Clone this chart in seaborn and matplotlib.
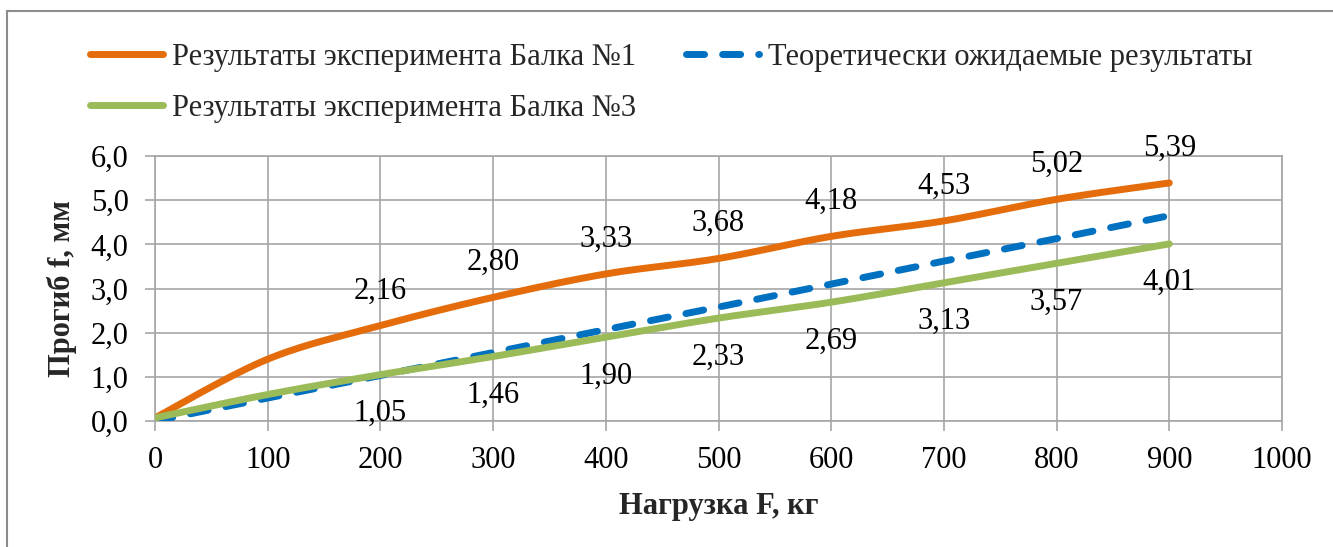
import numpy as np
import pandas as pd
import matplotlib
matplotlib.use("Agg")
import matplotlib.pyplot as plt
import seaborn as sns
from matplotlib.patches import Rectangle
from matplotlib.ticker import FuncFormatter, MultipleLocator

# data
loads = [0, 100, 200, 300, 400, 500, 600, 700, 800, 900]
beam1 = [0.07, 1.40, 2.16, 2.80, 3.33, 3.68, 4.18, 4.53, 5.02, 5.39]
theory = [0.00, 0.52, 1.03, 1.55, 2.07, 2.58, 3.10, 3.62, 4.13, 4.65]
beam3 = [0.07, 0.60, 1.05, 1.46, 1.90, 2.33, 2.69, 3.13, 3.57, 4.01]
beam1_labels = ["", "", "2,16", "2,80", "3,33", "3,68", "4,18", "4,53", "5,02", "5,39"]
beam3_labels = ["", "", "1,05", "1,46", "1,90", "2,33", "2,69", "3,13", "3,57", "4,01"]

name1 = "Результаты эксперимента Балка №1"
name_t = "Теоретически ожидаемые результаты"
name3 = "Результаты эксперимента Балка №3"

ORANGE = "#E46C0A"
BLUE = "#0070C0"
GREEN = "#9BBB59"
GRID = "#A6A6A6"
FS = 22


def smooth(x, y, n=30):
    # excel-like smoothed line (catmull-rom as cubic bezier), only for drawing
    x = np.asarray(x, float)
    y = np.asarray(y, float)
    px = np.concatenate([[x[0]], x, [x[-1]]])
    py = np.concatenate([[y[0]], y, [y[-1]]])
    xs, ys = [], []
    t = np.linspace(0, 1, n)
    for i in range(1, len(px) - 2):
        p0 = np.array([px[i], py[i]])
        p3 = np.array([px[i + 1], py[i + 1]])
        c1 = p0 + (np.array([px[i + 1], py[i + 1]]) - np.array([px[i - 1], py[i - 1]])) / 6
        c2 = p3 - (np.array([px[i + 2], py[i + 2]]) - np.array([px[i], py[i]])) / 6
        b = ((1 - t) ** 3)[:, None] * p0 + (3 * (1 - t) ** 2 * t)[:, None] * c1 \
            + (3 * (1 - t) * t ** 2)[:, None] * c2 + (t ** 3)[:, None] * p3
        xs.extend(b[:, 0])
        ys.extend(b[:, 1])
    return np.array(xs), np.array(ys)


sns.set_theme(style="white")
plt.rcParams["font.family"] = ["Liberation Serif", "DejaVu Serif"]

fig = plt.figure(figsize=(13.33, 5.47), dpi=100)
ax = fig.add_axes([155 / 1333, 1 - 421 / 547, (1282 - 155) / 1333, (421 - 156) / 547])

x1, y1 = smooth(loads, beam1)
x3, y3 = smooth(loads, beam3)

sns.lineplot(x=x1, y=y1, ax=ax, color=ORANGE, lw=5, sort=False,
             solid_capstyle="round", label=name1, zorder=3)
sns.lineplot(x=x3, y=y3, ax=ax, color=GREEN, lw=5, sort=False,
             solid_capstyle="round", label=name3, zorder=4)
sns.lineplot(x=loads, y=theory, ax=ax, color=BLUE, lw=5, sort=False,
             dash_capstyle="round", label=name_t, zorder=3)
ax.lines[-1].set_dashes((2.6, 2.6))

for xv, yv, lab in zip(loads, beam1, beam1_labels):
    if lab:
        ax.annotate(lab, (xv, yv), xytext=(0, 25), textcoords="offset points",
                    ha="center", va="center", fontsize=FS, color="black")
for xv, yv, lab in zip(loads, beam3, beam3_labels):
    if lab:
        ax.annotate(lab, (xv, yv), xytext=(0, -28), textcoords="offset points",
                    ha="center", va="center", fontsize=FS, color="black")

ax.set_xlim(0, 1000)
ax.set_ylim(0, 6)
ax.xaxis.set_major_locator(MultipleLocator(100))
ax.yaxis.set_major_locator(MultipleLocator(1))
ax.yaxis.set_major_formatter(FuncFormatter(lambda v, p: f"{v:.1f}".replace(".", ",")))
ax.grid(True, color=GRID, lw=1.2)
ax.set_axisbelow(True)
for s in ax.spines.values():
    s.set_color(GRID)
    s.set_linewidth(1.2)
ax.tick_params(axis="both", labelsize=FS, colors=GRID, labelcolor="black",
               length=7, width=1.2, direction="out", bottom=True, left=True)
ax.tick_params(axis="x", pad=11)
ax.tick_params(axis="y", pad=12)

ax.set_xlabel("Нагрузка F, кг", fontsize=FS, fontweight="bold", labelpad=12)
ax.set_ylabel("Прогиб f, мм", fontsize=FS, fontweight="bold", labelpad=10)

handles, labels = ax.get_legend_handles_labels()
order = [labels.index(name1), labels.index(name3), labels.index(name_t)]
ax.get_legend().remove()
fig.legend([handles[i] for i in order], [labels[i] for i in order],
           ncol=2, loc="upper left", bbox_to_anchor=(90 / 1333, 1 - 43 / 547),
           frameon=False, fontsize=FS, handlelength=2.4, handletextpad=0.3,
           columnspacing=1.6, labelspacing=0.72, borderaxespad=0, borderpad=0)

fig.add_artist(Rectangle((7 / 1333, -0.05), 1.0, 1.05 - 11 / 547, transform=fig.transFigure,
                         fill=False, edgecolor="#8C8C8C", lw=1.5))

fig.savefig("out.png", dpi=100)
